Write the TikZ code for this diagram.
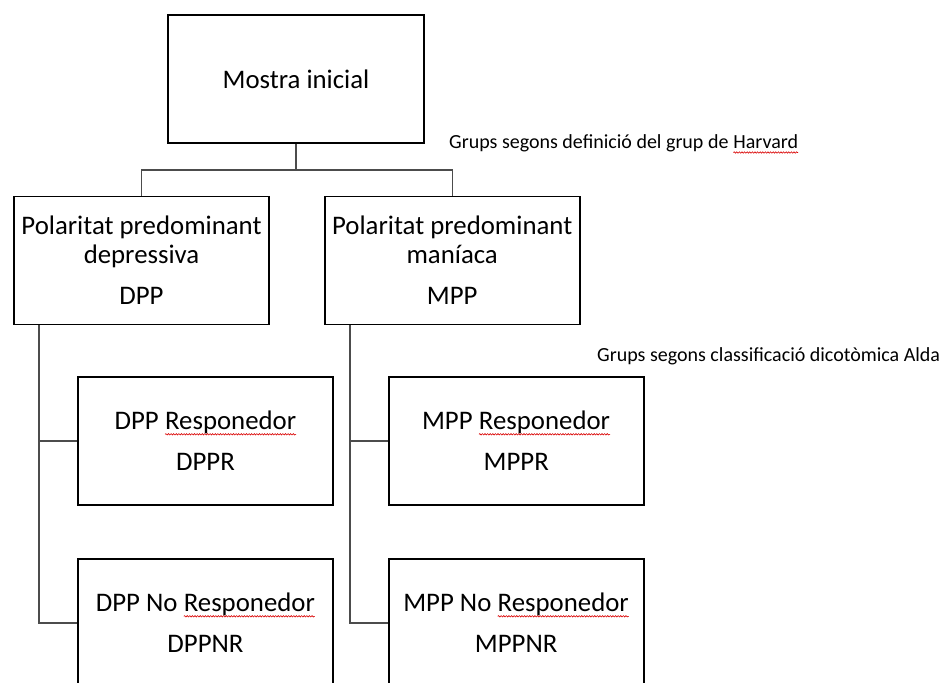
\documentclass[tikz,border=0pt]{standalone}
\usepackage{fontspec}
\setmainfont{Carlito}
\usepackage{tikz}
\usetikzlibrary{positioning, calc, decorations.pathmorphing}
\newcommand\redwave[1]{\tikz[baseline=(w.base)]{\node[rectangle, draw=none, inner sep=0pt, outer sep=0pt, minimum width=0pt, minimum height=0pt] (w) {#1};
    \draw[red!85!black, line width=0.6pt, decorate, decoration={snake, amplitude=0.7pt, segment length=2.6pt}] ([yshift=-4.5pt]w.base west) -- ([yshift=-4.5pt]w.base east);}}
\tikzset{
    block_plain/.style={rectangle, draw=black, line width=1.7pt, minimum width=255pt, minimum height=128pt, align=center, inner sep=0pt, font=\fontsize{26.8}{29}\selectfont},
    group_note/.style={inner sep=0pt, font=\fontsize{20}{23}\selectfont},
    link/.style={draw=black!70, line width=1.4pt}
}
\begin{document}
\begin{tikzpicture}[x=1pt, y=1pt, node distance=54pt]
			\clip (0,0) rectangle (944,-682);
			% Top
			\node (mostra) [block_plain, minimum width=256pt] at (296,-79) {Mostra inicial};
			
			% Harvard groups
			\node (dpp) [block_plain] at (141.5,-260.5) {Polaritat predominant\\ depressiva\\[12pt] DPP};
			
			\node (mpp) [block_plain, right=of dpp] {Polaritat predominant\\ maníaca\\[12pt] MPP};
			
			% Alda groups
			\node (dppr) [block_plain] at (205.5,-441) {DPP \redwave{Responedor}\\[12pt] DPPR};
			
			\node (dppnr) [block_plain] at (205.5,-623) {DPP No \redwave{Responedor}\\[12pt] DPPNR};
			
			\node (mppr) [block_plain, right=of dppr] {MPP \redwave{Responedor}\\[12pt] MPPR};
			
			\node (mppnr) [block_plain, right=of dppnr] {MPP No \redwave{Responedor}\\[12pt] MPPNR};
			
			% Notes
			\node (harvard) [group_note, anchor=base west] at (449,-148) {Grups segons definició del grup de \redwave{Harvard}};
			
			\node (alda) [group_note, anchor=base west] at (597,-361) {Grups segons classificació dicotòmica Alda};
			
			% Connections
			\draw [link] (mostra.south) -- ++(0,-26) -| (dpp.north);
			\draw [link] (mostra.south) ++(0,-26) -| (mpp.north);
			
			\draw [link] ([xshift=26pt]dpp.south west) |- (dppr.west);
			\draw [link] ([xshift=26pt]dpp.south west) |- (dppnr.west);
			
			\draw [link] ([xshift=26pt]mpp.south west) |- (mppr.west);
			\draw [link] ([xshift=26pt]mpp.south west) |- (mppnr.west);
		\end{tikzpicture}
\end{document}
